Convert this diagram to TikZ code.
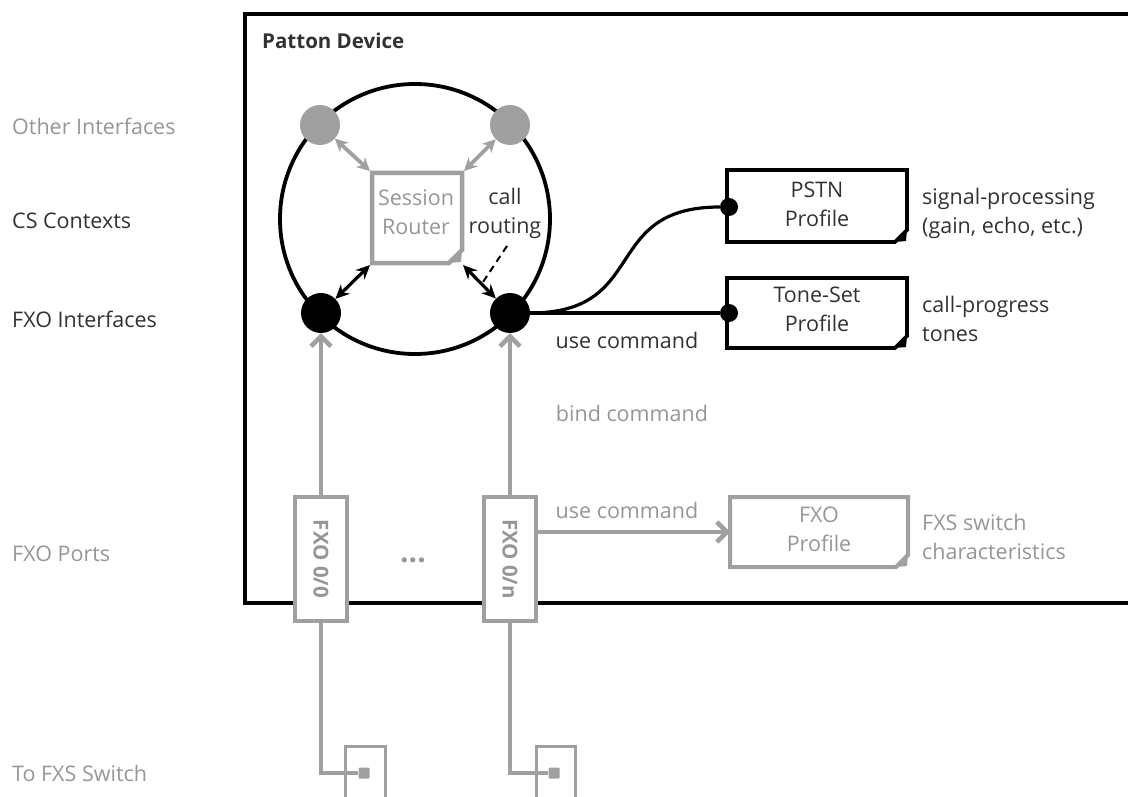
\documentclass[tikz,border=0pt]{standalone}
\usepackage{fontspec}
\setmainfont{Open Sans}
\usetikzlibrary{arrows.meta,calc}
\definecolor{gr}{RGB}{160,160,160}
\definecolor{gt}{RGB}{150,150,150}
\definecolor{dk}{RGB}{50,50,50}
\begin{document}
\begin{tikzpicture}[x=1pt,y=-1pt,
  lbl/.style={font=\fontsize{21.5}{29}\selectfont, inner sep=0pt, anchor=west, text=dk},
  txt/.style={font=\fontsize{21.5}{29}\selectfont, inner sep=0pt, align=center, text=dk},
  txtl/.style={font=\fontsize{21.5}{29}\selectfont, inner sep=0pt, align=left, anchor=west, text=dk},
  gdot/.style={circle, fill=gr, minimum size=40pt, inner sep=0pt},
  bdot/.style={circle, fill=black, minimum size=40pt, inner sep=0pt},
  sdot/.style={circle, fill=black, minimum size=18pt, inner sep=0pt},
  portbox/.style={draw=gr, line width=4.5pt, minimum width=52pt, minimum height=124pt, inner sep=0pt, fill=white},
  portlbl/.style={rotate=-90, text=gt, font=\fontsize{20.5}{24}\selectfont\bfseries, inner sep=0pt},
  garrow/.style={draw=gr, line width=4.5pt, -{Straight Barb[length=10pt,width=20pt,line width=4.5pt]}},
  barrow/.style={draw=black, line width=3.2pt, {Stealth[length=14pt,width=13pt]}-{Stealth[length=14pt,width=13pt]}},
  grarrow/.style={draw=gr, line width=3.8pt, {Stealth[length=13pt,width=13pt]}-{Stealth[length=13pt,width=13pt]}},
]
\useasboundingbox (0,0) rectangle (1128,797);
\clip (0,0) rectangle (1128,797);

% outer device box
\draw[line width=3.8pt] (1140,14) -- (245,14) -- (245,603) -- (1140,603);
\node[lbl, font=\fontsize{20.5}{24}\selectfont\bfseries] (title) at (262,41) {Patton Device};

% left labels
\node[lbl, text=gt] (l1) at (12,126) {Other Interfaces};
\node[lbl] (l2) at (12,221) {CS Contexts};
\node[lbl] (l3) at (12,319) {FXO Interfaces};
\node[lbl, text=gt] (l4) at (12,554) {FXO Ports};
\node[lbl, text=gt] (l5) at (12,773) {To FXS Switch};

% context circle
\draw[line width=3.8pt] (415,219) circle (135);

% session router box with folded corner
\draw[draw=gr, line width=4.5pt] (372,173) -- (462,173) -- (462,250) -- (449,263) -- (372,263) -- cycle;
\fill[gr] (462,250) -- (449,263) -- (461,262) -- cycle;
\node[txt, text=gt] (sr) at (416,212) {Session\\Router};
\coordinate (srtl) at (370,171);
\coordinate (srtr) at (464,171);
\coordinate (srbl) at (370,265);
\coordinate (srbr) at (463,265);

% dots
\node[gdot] (g1) at (320,125) {};
\node[gdot] (g2) at (510,125) {};
\node[bdot] (b1) at (321,313) {};
\node[bdot] (b2) at (510,313) {};

\draw[grarrow] (g1) -- (srtl);
\draw[grarrow] (g2) -- (srtr);
\draw[barrow] (b1) -- (srbl);
\draw[barrow] (b2) -- (srbr);

\node[txt] (cr) at (505,213) {call\\routing};
\coordinate (crs) at (507,246);
\coordinate (cre) at (483,282);
\draw[line width=2pt, dash pattern=on 7pt off 5pt] (crs) -- (cre);

% profiles
\draw[line width=3.8pt] (727,170) -- (907,170) -- (907,230) -- (895,242) -- (727,242) -- cycle;
\fill (907,230) -- (895,242) -- (906,241) -- cycle;
\node[txt] (pstn) at (817,204) {PSTN\\Profile};
\node[sdot] (pd) at (729,207) {};

\draw[line width=3.8pt] (727,278) -- (907,278) -- (907,336) -- (895,348) -- (727,348) -- cycle;
\fill (907,336) -- (895,348) -- (906,347) -- cycle;
\node[txt] (tone) at (817,309) {Tone-Set\\Profile};
\node[sdot] (td) at (729,313) {};

\draw[line width=3.2pt] (b2.east) .. controls (650,313) and (600,207) .. (pd.west);
\draw[line width=3.2pt] (b2.east) -- (td.west);

\node[txtl] (sp) at (922,213) {signal-processing\\(gain, echo, etc.)};
\node[txtl] (cp) at (922,319) {call-progress\\tones};
\node[txt] (use1) at (627,340) {use command};
\node[txt, text=gt] (bind) at (632,413) {bind command};

% FXO ports
\node[portbox] (p0) at (321,559) {};
\node[portbox] (p1) at (510,559) {};
\node[portlbl] (p0t) at (321,559) {FXO 0/0};
\node[portlbl] (p1t) at (510,559) {FXO 0/n};
\node[txt, text=gt, font=\fontsize{30}{30}\selectfont\bfseries] (dots) at (413,560) {...};

\draw[garrow] (p0.north) -- (b1.south);
\draw[garrow] (p1.north) -- (b2.south);

% FXO profile
\draw[draw=gr, line width=4pt] (730,497) -- (908,497) -- (908,555) -- (896,567) -- (730,567) -- cycle;
\fill[gr] (908,555) -- (896,567) -- (907,566) -- cycle;
\node[txt, text=gt] (fxop) at (819,529) {FXO\\Profile};
\coordinate (fxoin) at (730,532);
\draw[garrow] (p1.east |- fxoin) -- (fxoin);
\node[txt, text=gt] (use2) at (627,510) {use command};
\node[txtl, text=gt] (fxs) at (922,537) {FXS switch\\characteristics};

% bottom switch connectors
\draw[draw=gr, line width=3pt] (345,800) -- (345,746) -- (385,746) -- (385,800);
\draw[draw=gr, line width=3pt] (536,800) -- (536,746) -- (575,746) -- (575,800);
\node[fill=gr, minimum size=11pt, inner sep=0pt, rounded corners=1pt] (c0) at (364,773) {};
\node[fill=gr, minimum size=11pt, inner sep=0pt, rounded corners=1pt] (c1) at (554,773) {};
\draw[draw=gr, line width=4.5pt] (p0.south) |- (c0.west);
\draw[draw=gr, line width=4.5pt] (p1.south) |- (c1.west);
\end{tikzpicture}
\end{document}
